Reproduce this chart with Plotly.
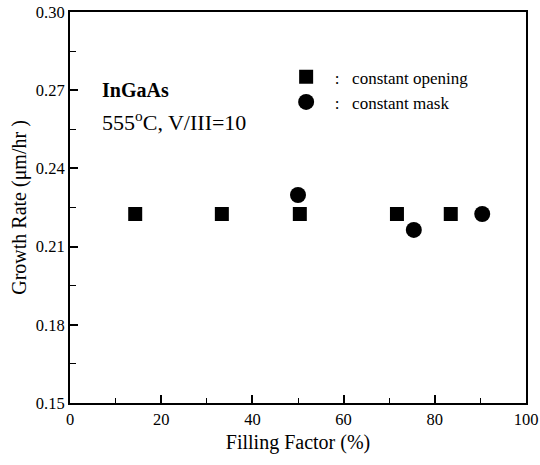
import plotly.graph_objects as go

# Data
opening_x = [14.3, 33.3, 50.4, 71.7, 83.5]
opening_y = [0.2225, 0.2225, 0.2225, 0.2225, 0.2225]
mask_x = [50.0, 75.4, 90.4]
mask_y = [0.2298, 0.2164, 0.2225]
x_ticks = [0, 20, 40, 60, 80, 100]
y_ticks = [0.15, 0.18, 0.21, 0.24, 0.27, 0.30]
y_tick_labels = ["0.15", "0.18", "0.21", "0.24", "0.27", "0.30"]

FONT = "Times New Roman, Liberation Serif, serif"
NB = "\u00a0"

fig = go.Figure()
fig.add_trace(go.Scatter(
    x=opening_x, y=opening_y, mode="markers",
    name=NB * 2 + ":" + NB * 3 + "constant opening",
    marker=dict(symbol="square", size=14, color="black"),
))
fig.add_trace(go.Scatter(
    x=mask_x, y=mask_y, mode="markers",
    name=NB * 2 + ":" + NB * 3 + "constant mask",
    marker=dict(symbol="circle", size=16, color="black"),
))

fig.update_layout(
    width=540, height=465,
    margin=dict(l=70, r=14, t=12, b=62),
    paper_bgcolor="white", plot_bgcolor="white",
    font=dict(family=FONT, color="black", size=15),
    showlegend=True,
    legend=dict(x=0.474, y=0.879, xanchor="left", yanchor="top",
                bgcolor="rgba(0,0,0,0)", font=dict(size=17, family=FONT),
                tracegroupgap=0, itemwidth=30),
    xaxis=dict(
        range=[0, 100], tickvals=x_ticks, ticks="inside", ticklen=8,
        tickwidth=1.5, tickcolor="black", automargin=False,
        minor=dict(dtick=10, ticks="inside", ticklen=5, tickwidth=1.2, tickcolor="black"),
        showline=True, linecolor="black", linewidth=2, mirror=True,
        showgrid=False, zeroline=False,
        tickfont=dict(size=16.5, family=FONT),
        title=dict(text="Filling Factor (%)", font=dict(size=20, family=FONT), standoff=7),
    ),
    yaxis=dict(
        range=[0.15, 0.30], tickvals=y_ticks, ticktext=y_tick_labels,
        ticks="inside", ticklen=8, tickwidth=1.5, tickcolor="black", automargin=False,
        minor=dict(dtick=0.015, tick0=0.15, ticks="inside", ticklen=6, tickwidth=1.2, tickcolor="black"),
        showline=True, linecolor="black", linewidth=2, mirror=True,
        showgrid=False, zeroline=False,
        tickfont=dict(size=16.5, family=FONT),
        title=dict(text="Growth Rate (μm/hr )", font=dict(size=20, family=FONT), standoff=4),
    ),
    annotations=[
        dict(x=6.6, y=0.270, xref="x", yref="y", text="<b>InGaAs</b>", showarrow=False,
             xanchor="left", yanchor="middle", font=dict(size=20, family=FONT)),
        dict(x=6.6, y=0.2582, xref="x", yref="y", text="555<sup>o</sup>C, V/III=10", showarrow=False,
             xanchor="left", yanchor="middle", font=dict(size=22, family=FONT)),
    ],
)

fig.write_html("out.html", config={"displayModeBar": False},
               post_script="document.body.style.margin='0';")
